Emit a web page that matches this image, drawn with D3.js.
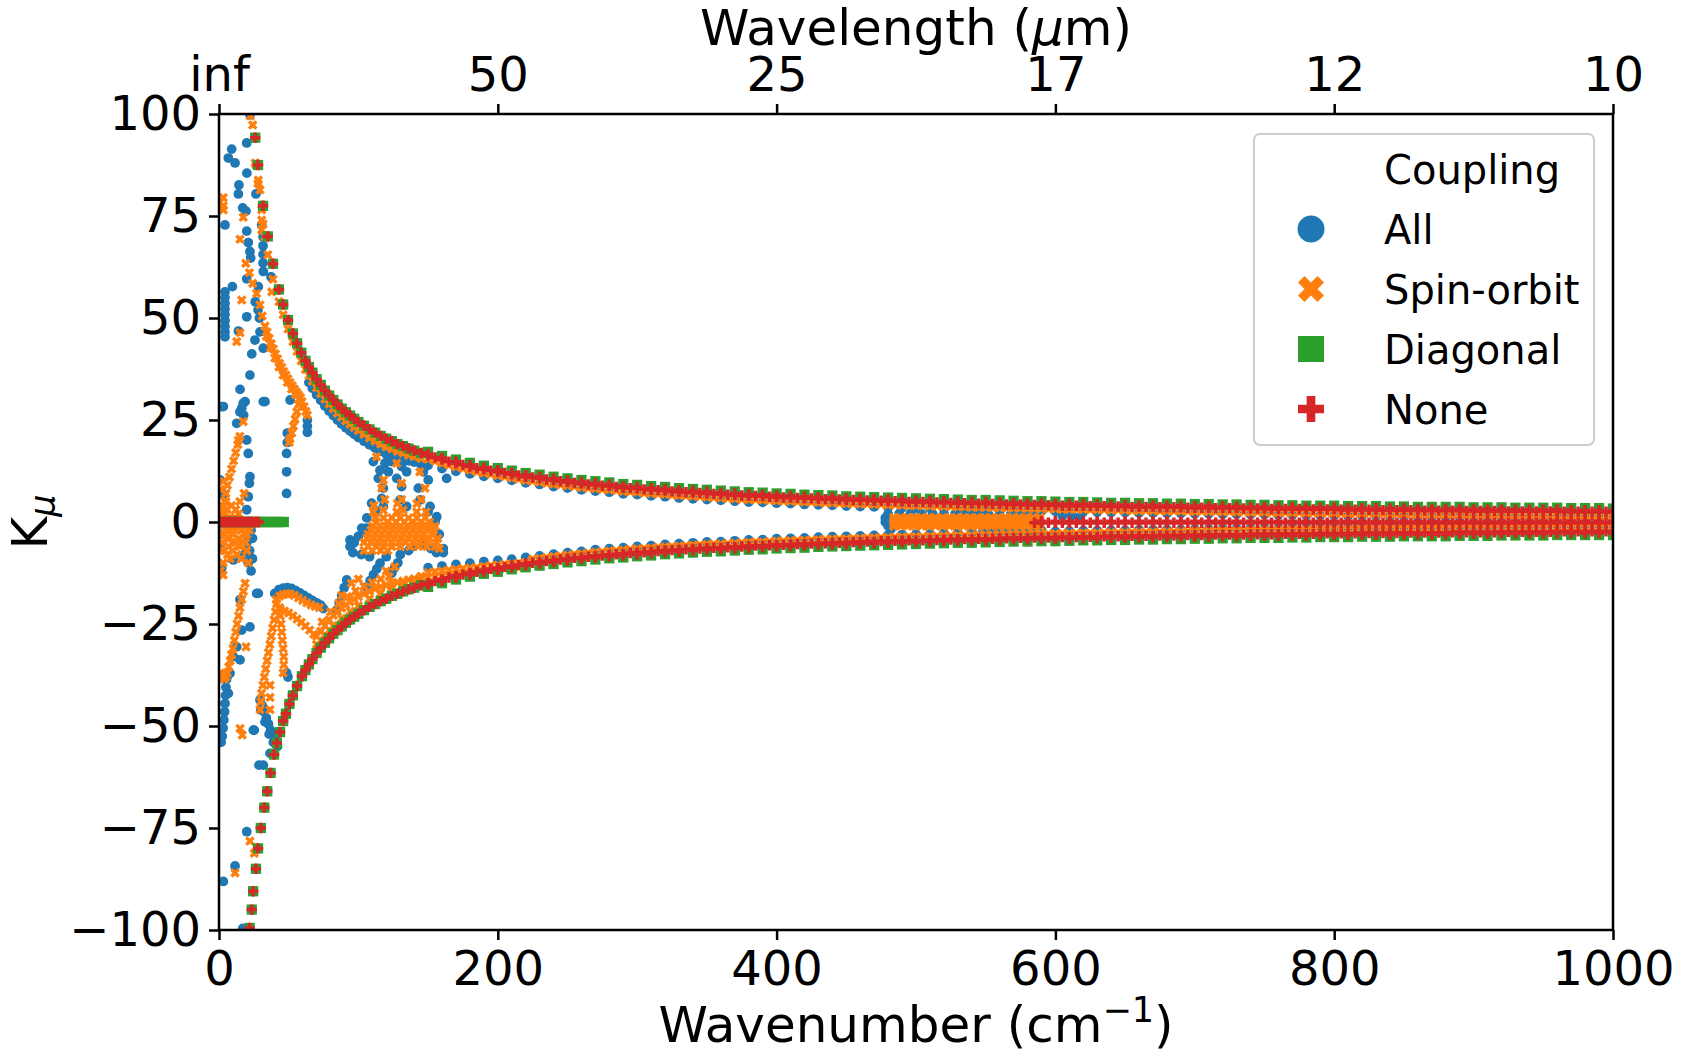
<!DOCTYPE html>
<html>
<head>
<meta charset="utf-8">
<script src="https://cdn.jsdelivr.net/npm/d3@7"></script>
<style>
  body { margin: 0; background: #fff; }
  svg { display: block; }
  text { font-family: "DejaVu Sans", sans-serif; fill: #000; }
</style>
</head>
<body>
<script>
// ---- axis ticks ----
const xTicks = [0, 200, 400, 600, 800, 1000];
const topTickLabels = ['inf', '50', '25', '17', '12', '10'];
const yTicks = [-100, -75, -50, -25, 0, 25, 50, 75, 100];
const couplings = ['All', 'Spin-orbit', 'Diagonal', 'None'];

// ---- wavenumber grids (cm-1) ----
const nuSteepUp = [26,28,31.6,35,38.7,43,46,49.5,53,56, 59,62,64.5,67,70,73,76,79,82,85,
  88,91,94,97,100,104,108,112,116,120, 124,128,132,136,140,145];
const nuSteepLow = [22,23.5,24.5,26.5,28,30,32.5,34.6,37,39.5, 41.5,43.8,46,48,50.5,53,56,59.5,62,64.5,
  67,70,73,76,79,82,85,88,91,94, 97,100,104,108,112,116,120,124,128,132, 136,140,145];
const nuFine = [150,155,160,165,170,175,180,185,190,195, 200,205,210,215,220,225,230,235,240,245,
  250,255,260,265,270,275,280,285,290,295, 300,305,310,315,320,325,330,335,340,345,
  350,355,360,365,370,375,380,385,390,395, 400,405,410,415,420,425,430,435,440,445,
  450,455,460,465,470,475,480,485,490,495, 500,505,510,515,520,525,530,535,540,545,
  550,555,560,565,570,575,580,585,590,595, 600,605,610,615,620,625,630,635,640,645,
  650,655,660,665,670,675,680,685,690,695, 700,705,710,715,720,725,730,735,740,745,
  750,755,760,765,770,775,780,785,790,795, 800,805,810,815,820,825,830,835,840,845,
  850,855,860,865,870,875,880,885,890,895, 900,905,910,915,920,925,930,935,940,945,
  950,955,960,965,970,975,980,985,990,995, 1000];
const nuCoarse = [150,160,170,180,190,200,210,220,230,240, 250,260,270,280,290,300,310,320,330,340,
  350,360,370,380,390,400,410,420,430,440, 450,460,470,480,490,500,510,520,530,540,
  550,560,570,580,590,600,610,620,630,640, 650,660,670,680,690,700,710,720,730,740,
  750,760,770,780,790,800,810,820,830,840, 850,860,870,880,890,900,910,920,930,940,
  950,960,970,980,990,1000];

// ---- None (no coupling) ----
const noneUpperSteep = [94.2,87.5,77.5,70.0,63.3,57.0,53.3,49.5,46.2,43.8, 41.5,39.5,38.0,36.6,35.0,33.6,32.2,31.0,29.9,28.8,
  27.8,26.9,26.1,25.3,24.5,23.6,22.7,21.9,21.1,20.4, 19.8,19.1,18.6,18.0,17.5,16.9];
const noneLowerSteep = [-99.5,-95,-90.5,-85,-80,-75,-70,-66,-61.5,-57, -54.2,-51.5,-48.8,-47,-44.6,-42.5,-40.2,-37.8,-36.3,-34.9,
  -33.6,-32.1,-30.8,-29.6,-28.5,-27.4,-26.5,-25.6,-24.7,-23.9, -23.2,-22.5,-21.6,-20.8,-20.1,-19.4,-18.8,-18.1,-17.6,-17.0,
  -16.5,-16.1,-15.5];
const noneUpperFine = [16.3,15.8,15.3,14.8,14.4,14.0,13.6,13.2,12.9,12.6, 12.3,12.0,11.7,11.4,11.1,10.9,10.7,10.4,10.2,10.0,
  9.8,9.6,9.4,9.2,9.1,8.9,8.8,8.6,8.4,8.3, 8.2,8.0,7.9,7.8,7.7,7.5,7.4,7.3,7.2,7.1,
  7.0,6.9,6.8,6.7,6.6,6.5,6.4,6.4,6.3,6.2, 6.1,6.0,6.0,5.9,5.8,5.8,5.7,5.6,5.6,5.5,
  5.4,5.4,5.3,5.3,5.2,5.2,5.1,5.1,5.0,4.9, 4.9,4.9,4.8,4.8,4.7,4.7,4.6,4.6,4.5,4.5,
  4.5,4.4,4.4,4.3,4.3,4.3,4.2,4.2,4.2,4.1, 4.1,4.0,4.0,4.0,4.0,3.9,3.9,3.9,3.8,3.8,
  3.8,3.7,3.7,3.7,3.7,3.6,3.6,3.6,3.6,3.5, 3.5,3.5,3.5,3.4,3.4,3.4,3.4,3.3,3.3,3.3,
  3.3,3.2,3.2,3.2,3.2,3.2,3.1,3.1,3.1,3.1, 3.1,3.0,3.0,3.0,3.0,3.0,3.0,2.9,2.9,2.9,
  2.9,2.9,2.8,2.8,2.8,2.8,2.8,2.8,2.8,2.7, 2.7,2.7,2.7,2.7,2.7,2.6,2.6,2.6,2.6,2.6,
  2.6,2.6,2.6,2.5,2.5,2.5,2.5,2.5,2.5,2.5, 2.4];
const noneLowerFine = [-15.0,-14.5,-14.1,-13.6,-13.2,-12.9,-12.5,-12.2,-11.8,-11.5, -11.3,-11.0,-10.7,-10.5,-10.2,-10.0,-9.8,-9.6,-9.4,-9.2,
  -9.0,-8.8,-8.7,-8.5,-8.3,-8.2,-8.0,-7.9,-7.8,-7.6, -7.5,-7.4,-7.3,-7.1,-7.0,-6.9,-6.8,-6.7,-6.6,-6.5,
  -6.4,-6.3,-6.3,-6.2,-6.1,-6.0,-5.9,-5.8,-5.8,-5.7, -5.6,-5.6,-5.5,-5.4,-5.4,-5.3,-5.2,-5.2,-5.1,-5.1,
  -5.0,-4.9,-4.9,-4.8,-4.8,-4.7,-4.7,-4.6,-4.6,-4.5, -4.5,-4.5,-4.4,-4.4,-4.3,-4.3,-4.2,-4.2,-4.2,-4.1,
  -4.1,-4.1,-4.0,-4.0,-3.9,-3.9,-3.9,-3.8,-3.8,-3.8, -3.8,-3.7,-3.7,-3.7,-3.6,-3.6,-3.6,-3.5,-3.5,-3.5,
  -3.5,-3.4,-3.4,-3.4,-3.4,-3.3,-3.3,-3.3,-3.3,-3.2, -3.2,-3.2,-3.2,-3.1,-3.1,-3.1,-3.1,-3.1,-3.0,-3.0,
  -3.0,-3.0,-3.0,-2.9,-2.9,-2.9,-2.9,-2.9,-2.8,-2.8, -2.8,-2.8,-2.8,-2.8,-2.7,-2.7,-2.7,-2.7,-2.7,-2.7,
  -2.6,-2.6,-2.6,-2.6,-2.6,-2.6,-2.6,-2.5,-2.5,-2.5, -2.5,-2.5,-2.5,-2.5,-2.4,-2.4,-2.4,-2.4,-2.4,-2.4,
  -2.4,-2.4,-2.3,-2.3,-2.3,-2.3,-2.3,-2.3,-2.3,-2.3, -2.3];
// second, slightly outer row of the two branches
const noneUpperCoarse = [16.7,15.7,14.8,14.0,13.3,12.7,12.1,11.5,11.1,10.6, 10.2,9.8,9.5,9.2,8.8,8.6,8.3,8.1,7.8,7.6,
  7.4,7.2,7.0,6.8,6.7,6.5,6.4,6.2,6.1,6.0, 5.8,5.7,5.6,5.5,5.4,5.3,5.2,5.1,5.0,4.9,
  4.9,4.8,4.7,4.6,4.6,4.5,4.4,4.4,4.3,4.2, 4.2,4.1,4.1,4.0,4.0,3.9,3.9,3.8,3.8,3.7,
  3.7,3.6,3.6,3.5,3.5,3.5,3.4,3.4,3.4,3.3, 3.3,3.2,3.2,3.2,3.2,3.1,3.1,3.1,3.0,3.0,
  3.0,3.0,2.9,2.9,2.9,2.8];
const noneLowerCoarse = [-15.4,-14.5,-13.6,-12.9,-12.2,-11.7,-11.1,-10.6,-10.2,-9.8, -9.4,-9.1,-8.7,-8.4,-8.2,-7.9,-7.7,-7.4,-7.2,-7.0,
  -6.8,-6.7,-6.5,-6.3,-6.2,-6.0,-5.9,-5.8,-5.6,-5.5, -5.4,-5.3,-5.2,-5.1,-5.0,-4.9,-4.8,-4.7,-4.6,-4.6,
  -4.5,-4.4,-4.3,-4.3,-4.2,-4.2,-4.1,-4.0,-4.0,-3.9, -3.9,-3.8,-3.8,-3.7,-3.7,-3.6,-3.6,-3.5,-3.5,-3.4,
  -3.4,-3.4,-3.3,-3.3,-3.2,-3.2,-3.2,-3.1,-3.1,-3.1, -3.0,-3.0,-3.0,-3.0,-2.9,-2.9,-2.9,-2.8,-2.8,-2.8,
  -2.8,-2.7,-2.7,-2.7,-2.7,-2.7];
// flat band near K = 0 from 585 cm-1 on (nuFine from 585, nuCoarse from 590)
const noneMid = [-0.2,-0.2,-0.2,-0.2,-0.2,-0.2,-0.2,-0.2,-0.2,-0.2, -0.2,-0.2,-0.2,-0.2,-0.2,-0.2,-0.2,-0.2,-0.2,-0.2,
  -0.2,-0.2,-0.2,-0.2,-0.2,-0.2,-0.2,-0.2,-0.2,-0.2, -0.2,-0.2,-0.2,-0.2,-0.2,-0.2,-0.2,-0.2,-0.2,-0.2,
  -0.2,-0.2,-0.2,-0.2,-0.2,-0.2,-0.2,-0.2,-0.2,-0.2, -0.2,-0.2,-0.2,-0.2,-0.2,-0.2,-0.2,-0.2,-0.2,-0.2,
  -0.2,-0.2,-0.2,-0.2,-0.2,-0.2,-0.2,-0.2,-0.2,-0.2, -0.2,-0.2,-0.2,-0.2,-0.2,-0.2,-0.2,-0.2,-0.2,-0.2,
  -0.2,-0.2,-0.2,-0.2];
const noneMid2 = [0.2,0.2,0.2,0.2,0.2,0.2,0.2,0.2,0.2,0.2, 0.2,0.2,0.2,0.2,0.2,0.2,0.2,0.2,0.2,0.2,
  0.2,0.2,0.2,0.2,0.2,0.2,0.2,0.2,0.2,0.2, 0.2,0.2,0.2,0.2,0.2,0.2,0.2,0.2,0.2,0.2, 0.2,0.2];
const noneZero = [[0,0],[1.5,0],[3,0],[4.5,0],[6,0],[7.5,0],[9,0],[10.5,0],[12,0],[13.5,0],
  [15,0],[16.5,0],[18,0],[19.5,0],[21,0],[22.5,0],[24,0],[25.5,0],[27,0],[28.5,0]];

// ---- Diagonal ----
const diagUpperCoarse = [17.2,16.2,15.3,14.5,13.8,13.2,12.6,12.0,11.6,11.1, 10.7,10.3,10.0,9.7,9.3,9.1,8.8,8.6,8.3,8.1,
  7.9,7.7,7.5,7.3,7.2,7.0,6.9,6.7,6.6,6.5, 6.3,6.2,6.1,6.0,5.9,5.8,5.7,5.6,5.5,5.4,
  5.4,5.3,5.2,5.1,5.1,5.0,4.9,4.9,4.8,4.7, 4.7,4.6,4.6,4.5,4.5,4.4,4.4,4.3,4.3,4.2,
  4.2,4.1,4.1,4.0,4.0,4.0,3.9,3.9,3.9,3.8, 3.8,3.7,3.7,3.7,3.7,3.6,3.6,3.6,3.5,3.5,
  3.5,3.5,3.4,3.4,3.4,3.3];
const diagLowerCoarse = [-15.9,-15.0,-14.1,-13.4,-12.7,-12.2,-11.6,-11.1,-10.7,-10.3, -9.9,-9.6,-9.2,-8.9,-8.7,-8.4,-8.2,-7.9,-7.7,-7.5,
  -7.3,-7.2,-7.0,-6.8,-6.7,-6.5,-6.4,-6.3,-6.1,-6.0, -5.9,-5.8,-5.7,-5.6,-5.5,-5.4,-5.3,-5.2,-5.1,-5.1,
  -5.0,-4.9,-4.8,-4.8,-4.7,-4.7,-4.6,-4.5,-4.5,-4.4, -4.4,-4.3,-4.3,-4.2,-4.2,-4.1,-4.1,-4.0,-4.0,-3.9,
  -3.9,-3.9,-3.8,-3.8,-3.7,-3.7,-3.7,-3.6,-3.6,-3.6, -3.5,-3.5,-3.5,-3.5,-3.4,-3.4,-3.4,-3.3,-3.3,-3.3,
  -3.3,-3.2,-3.2,-3.2,-3.2,-3.2];
const diagZero = [[0,0],[1.5,0],[3,0],[4.5,0],[6,0],[7.5,0],[9,0],[10.5,0],[12,0],[13.5,0],
  [15,0],[16.5,0],[18,0],[19.5,0],[21,0],[22.5,0],[24,0],[25.5,0],[27,0],[28.5,0],
  [30,0],[31.5,0],[33,0],[34.5,0],[36,0],[37.5,0],[39,0],[40.5,0],[42,0],[43.5,0],[45,0],[46.5,0]];

// ---- Spin-orbit ----
const spinUpperSteep = [88,83,73,65.5,59.5,54,50.8,47.3,44.2,41.8, 39.5,37.4,35.9,34.5,32.9,31.5,30.1,28.9,27.8,26.7,
  25.7,24.8,24.0,23.2,22.4,21.5,20.6,19.8,19.1,18.4, 17.9,17.3,16.9,16.4,16.0,15.6];
const spinLowerSteep = [-28.0,-26.8,-25.4,-24.0,-22.9,-22.0,-21.1,-20.3,-19.6,-18.9, -18.3,-17.6,-17.0,-16.4,-15.9,-15.5,-15.1,-14.8,-14.5,-14.2,
  -13.9,-13.3]; // on nuSteepLow from 70 cm-1
const spinUpperFine = [15.4,14.9,14.4,13.9,13.5,13.1,12.7,12.3,12.0,11.7, 11.4,11.1,10.8,10.5,10.2,10.0,9.8,9.5,9.3,9.1,
  8.9,8.7,8.5,8.3,8.2,8.0,7.9,7.7,7.5,7.4, 7.3,7.1,7.0,6.9,6.8,6.6,6.5,6.4,6.3,6.2,
  6.1,6.0,5.9,5.8,5.7,5.6,5.5,5.5,5.4,5.3, 5.2,5.1,5.1,5.0,4.9,4.9,4.8,4.7,4.7,4.6,
  4.5,4.5,4.4,4.4,4.3,4.3,4.2,4.2,4.1,4.0, 4.0,4.0,3.9,3.9,3.8,3.8,3.7,3.7,3.6,3.6,
  3.6,3.5,3.5,3.4,3.4,3.4,3.3,3.3,3.3,3.2, 3.2,3.1,3.1,3.1,3.1,3.0,3.0,3.0,2.9,2.9,
  2.9,2.8,2.8,2.8,2.8,2.7,2.7,2.7,2.7,2.6, 2.6,2.6,2.6,2.5,2.5,2.5,2.5,2.4,2.4,2.4,
  2.4,2.3,2.3,2.3,2.3,2.3,2.2,2.2,2.2,2.2, 2.2,2.1,2.1,2.1,2.1,2.1,2.1,2.0,2.0,2.0,
  2.0,2.0,1.9,1.9,1.9,1.9,1.9,1.9,1.9,1.8, 1.8,1.8,1.8,1.8,1.8,1.7,1.7,1.7,1.7,1.7,
  1.7,1.7,1.7,1.6,1.6,1.6,1.6,1.6,1.6,1.6, 1.5];
const spinLowerFine = [-12.4,-12.2,-12.0,-11.8,-11.6,-11.4,-11.3,-11.1,-10.9,-10.7, -10.6,-10.4,-10.3,-10.1,-9.9,-9.1,-8.9,-8.7,-8.5,-8.3,
  -8.1,-7.9,-7.8,-7.6,-7.4,-7.3,-7.1,-7.0,-6.9,-6.7, -6.6,-6.5,-6.4,-6.2,-6.1,-6.0,-5.9,-5.8,-5.7,-5.6,
  -5.5,-5.4,-5.4,-5.3,-5.2,-5.1,-5.0,-4.9,-4.9,-4.8, -4.7,-4.7,-4.6,-4.5,-4.5,-4.4,-4.3,-4.3,-4.2,-4.2,
  -4.1,-4.0,-4.0,-3.9,-3.9,-3.8,-3.8,-3.7,-3.7,-3.6, -3.6,-3.6,-3.5,-3.5,-3.4,-3.4,-3.3,-3.3,-3.3,-3.2,
  -3.2,-3.2,-3.1,-3.1,-3.0,-3.0,-3.0,-2.9,-2.9,-2.9, -2.9,-2.8,-2.8,-2.8,-2.7,-2.7,-2.7,-2.6,-2.6,-2.6,
  -2.6,-2.5,-2.5,-2.5,-2.5,-2.4,-2.4,-2.4,-2.4,-2.3, -2.3,-2.3,-2.3,-2.2,-2.2,-2.2,-2.2,-2.2,-2.1,-2.1,
  -2.1,-2.1,-2.1,-2.0,-2.0,-2.0,-2.0,-2.0,-1.9,-1.9, -1.9,-1.9,-1.9,-1.9,-1.8,-1.8,-1.8,-1.8,-1.8,-1.8,
  -1.7,-1.7,-1.7,-1.7,-1.7,-1.7,-1.7,-1.6,-1.6,-1.6, -1.6,-1.6,-1.6,-1.6,-1.5,-1.5,-1.5,-1.5,-1.5,-1.5,
  -1.5,-1.5,-1.4,-1.4,-1.4,-1.4,-1.4,-1.4,-1.4,-1.4, -1.4];
const spinScatter = [
  [0.7,78.4],[3.1,79.5],[3.1,77.5],[3.1,76.5],[17.4,74.7],[15.1,69.3],[16.3,54.4],[15.1,46.4],[12.7,44.2],
  [22.5,99.5],[24.2,97.3],[26.5,87.5],[28.2,83.8],[29.4,81.4],[30.6,76.5],[30.6,74],[30.6,71.6],[33,69.9],[37.8,56.4],
  [19.2,63.4],[21.8,61.1],[24.2,58.5],[27,56],[29.4,53.2],[31,50.5],[33,48],[34.5,46.5],[36,45],[37.5,43.7],[39,42.4],
  [40.5,41.2],[42,40],[43.5,38.9],[45,37.9],[46.5,36.9],[48,36],[49.5,35.1],[51,34.2],[52.5,33.4],[54,32.6],[55.5,31.9],
  [57,31.2],[58.5,30.5],[34,45.5],[37,42.8],[40,40.2],[43,38],[46,36],[49,34.2],[52,32.6],[55,31.2],
  [57,28.8],[55.8,27],[54.6,25.2],[53.4,23.5],[52.2,21.8],[51,20.4],[50.4,19.5],[59.5,29.5],[61,28.3],[62.3,27.1],[63.4,26.2],
  [1,2],[2,-1],[3,1],[4,-3],[5,0],[6,-2],[7,-4],[8,1],[9,-1],[10,-3],[11,-5],[12,-2],[13,0],[14,-4],[15,-6],[16,-2],
  [17,-1],[18,-3],[19,-5],[20,-7],[6,3],[9,4],[12,3],[15,5],[18,7],[2,-5],[4,-7],[6,-8],[8,-9],[3,-10],[1,-7],[10,-7],
  [13,-8],[16,-9],[21,-10],[14,2],[11,1],[7,-6],[5,5],[2,4],[1,8],[3,10],[0.5,-3],[0.5,0],[2,2],[4,1],[6,-4],[8,-2],
  [10,0],[12,-5],[14,-1],[16,-5],[18,0],[20,-3],[22,-2],[1,-12],[3,-13],
  [3,3],[4,5],[5,7],[6,9],[7.5,11],[9,13],[10.5,15],[12,17],[13.5,19],[15,21],[17.4,24.6],[13.8,20],
  [18.7,-15],[17.5,-17],[16.3,-19],[15,-21],[14,-23],[13,-25],[12,-27],[11,-29],[10,-31],[9,-32.5],[8,-34],[7,-35.5],
  [6,-37],[5,-38],[3.5,-38.5],[2,-37.9],[1,-37],[19.4,-30.6],[15.1,-50.6],[16.7,-52.2],[22.2,-78.2],[25.3,-81.2],[11.5,-86],
  [41.4,-20],[40.5,-22],[39.5,-24],[38.5,-26],[37.5,-28],[36.5,-30],[35.5,-32],[34.5,-34],[33.5,-36],[32.5,-38],
  [31.5,-40],[30.5,-42],[30,-44],[29.4,-46],[43.5,-21],[44,-23],[44.5,-25],[45,-27],[45.5,-29],[46,-31],[46.5,-33],
  [46.5,-35],[46,-37],[36.6,-40],[36.6,-43],[36.6,-46],
  [41,-19],[43.5,-18.2],[46,-17.8],[48.6,-17.6],[51,-17.6],[54,-18],[57,-18.6],[60,-19.2],[63,-19.8],[66,-20.3],[69,-20.7],[72,-21],
  [44,-21.5],[47,-21.8],[50,-22.3],[53,-23],[56,-23.8],[59,-24.6],[62,-25.5],[65,-26.5],[68,-27.5],
  [74,-24.5],[80,-22],[86,-20],[92,-18.3],[98,-16.9],[104,-15.8],[110,-14.8],[116,-14],[122,-13.4],
  [88,-18],[95,-15],[100,-14],[120,-12],[126,-11],
  [70,-30],[76,-27.6],[82,-25.4],[88,-23.6],[94,-21.9],[100,-20.5],[108,-18.8],[116,-17.4],[124,-16.1],[132,-15],[140,-14.1],
  [145,-13.8],[150,-13.6],[155,-13.4],[160,-13.2],[165,-13],[170,-12.8],[175,-12.6],[180,-12.4],[185,-12.2],[190,-12],
  [195,-11.8],[200,-11.7],[205,-11.5],[210,-11.3],[215,-11.2],
  [118,10.3],[116.7,8.3],[131,9.5],[147.8,8.3],[113,16],[127.5,14.4],[144,12.3],[117.9,2.9],[132,2.9],[148.5,2.5],
  [119,5.5],[131,5.5],[145,5.5],
  [112,1],[118,1],[124,1],[130,1],[136,1],[142,1],[148,1],
  [113,0],[121,0],[127,0],[133,0],[139,0],[145,0],[151,0],
  [110,-1],[115,-1],[120,-1],[125,-1],[130,-1],[135,-1],[140,-1],[145,-1],[150,-1],[155,-1],
  [109,-2],[114,-2],[119,-2],[124,-2],[129,-2],[134,-2],[139,-2],[144,-2],[149,-2],[154,-2],
  [107,-3],[112,-3],[117,-3],[122,-3],[127,-3],[132,-3],[137,-3],[142,-3],[147,-3],[153,-3],
  [106,-4],[111,-4],[116,-4],[121,-4],[126,-4],[131,-4],[136,-4],[141,-4],[146,-4],[151,-4],[157,-4],
  [104,-5],[109,-5],[114,-5],[119,-5],[124,-5],[129,-5],[134,-5],[139,-5],[144,-5],[150,-5],[156,-5],
  [107,-6],[113,-6],[118,-6],[124,-6],[130,-6],[137,-6],[143,-6],[149,-6],[155,-6],
  [104,-7],[110,-7],[116,-7],[121,-7],
  [110.7,2.5],[111,4],[127.5,2.5],[128,4.5],[141.8,2.5],[142,4.5],[158,-6.5],
  [484,1.1],[489,1.1],[494,1.1],[499,1.1],[504,1.1],[509,1.1],[514,1.1],[519,1.1],[524,1.1],[529,1.1],[534,1.1],
  [539,1.1],[544,1.1],[549,1.1],[554,1.1],[559,1.1],[564,1.1],[569,1.1],[574,1.1],[579,1.1],[584,1.1],[589,1.1],
  [484,0.4],[489,0.4],[494,0.4],[499,0.4],[504,0.4],[509,0.4],[514,0.4],[519,0.4],[524,0.4],[529,0.4],[534,0.4],
  [539,0.4],[544,0.4],[549,0.4],[554,0.4],[559,0.4],[564,0.4],[569,0.4],[574,0.4],[579,0.4],[584,0.4],[589,0.4],
  [484,-0.3],[489,-0.3],[494,-0.3],[499,-0.3],[504,-0.3],[509,-0.3],[514,-0.3],[519,-0.3],[524,-0.3],[529,-0.3],[534,-0.3],
  [539,-0.3],[544,-0.3],[549,-0.3],[554,-0.3],[559,-0.3],[564,-0.3],[569,-0.3],[574,-0.3],[579,-0.3],[584,-0.3],[589,-0.3],
  [484,-1.0],[489,-1.0],[494,-1.0],[499,-1.0],[504,-1.0],[509,-1.0],[514,-1.0],[519,-1.0],[524,-1.0],[529,-1.0],[534,-1.0],
  [539,-1.0],[544,-1.0],[549,-1.0],[554,-1.0],[559,-1.0],[564,-1.0],[569,-1.0],[574,-1.0],[579,-1.0],[584,-1.0],[589,-1.0]
];

// ---- All couplings ----
const allUpperSteep = [34.2,32.8,31.2,29.8,28.4,27.2,26.1,25.0,24.0,23.1, 22.3,21.5,20.7,19.8,18.9,18.1,17.3,16.6,16.3,15.8,
  15.4,15.0,14.7,14.4]; // on nuSteepUp from 64.5 cm-1
const allUpperCoarse = [13.9,13.1,12.4,11.8,11.2,10.7,10.2,9.6,9.2,8.7, 8.3,7.9,7.6,7.3,6.9,6.7,6.4,6.2,5.9,5.7,
  5.5,5.3,5.1,4.9,4.8,4.6,4.5,4.3,4.2,4.1, 3.9,3.8,3.7,3.6,3.5,3.4,3.3,3.2,3.1,3.0,
  3.0,2.9,2.8,2.7,2.7,2.6,2.5,2.5,2.4,2.3, 2.3,2.2,2.2,2.1,2.1,2.0,2.0,1.9,1.9,1.8,
  1.8,1.7,1.7,1.6,1.6,1.6,1.5,1.5,1.5,1.4, 1.4,1.3,1.3,1.3,1.3,1.2,1.2,1.2,1.1,1.1,
  1.1,1.1,1.0,1.0,1.0,0.9];
const allLowerCoarse = [-11.2,-10.8,-10.4,-10.1,-9.7,-9.4,-9.1,-8.7,-8.3,-7.9, -7.5,-7.2,-6.8,-6.5,-6.3,-6.0,-5.8,-5.5,-5.3,-5.1,
  -4.9,-4.8,-4.6,-4.4,-4.3,-4.1,-4.0,-3.9,-3.7,-3.6, -3.5,-3.4,-3.3,-3.2,-3.1,-3.0,-2.9,-2.8,-2.7,-2.7,
  -2.6,-2.5,-2.4,-2.4,-2.3,-2.3,-2.2,-2.1,-2.1,-2.0, -2.0,-1.9,-1.9,-1.8,-1.8,-1.7,-1.7,-1.6,-1.6,-1.5,
  -1.5,-1.5,-1.4,-1.4,-1.3,-1.3,-1.3,-1.2,-1.2,-1.2, -1.1,-1.1,-1.1,-1.1,-1.0,-1.0,-1.0,-0.9,-0.9,-0.9,
  -0.9,-0.8,-0.8,-0.8,-0.8,-0.8];
const allScatter = [
  [22.2,99.8],[19.9,92.9],[9.1,91.4],[6.7,89.2],[11.5,88],[20,85.5],[14.3,82.6],[13.9,80.4],[26.5,80.4],[17,77],[19.4,76.2],
  [4.3,72.8],[30.6,72.8],[19.9,71.3],[31.6,69.9],[31.6,67.7],[31.6,65.6],[31.6,63.5],[21,68.5],[22.2,66.3],[22.7,64.7],
  [31.8,61.4],[19.9,59.6],[9.6,57.7],[37.3,60.1],[28.2,57.7],
  [4.3,56.4],[4.3,55],[4.3,53.6],[4.3,52.2],[4.3,50.8],[4.3,49.4],[4.3,48],[4.3,46.6],[4.3,45.4],
  [19.9,50.3],[13.9,46.8],[29.4,46.6],[25.8,44.6],[31.8,42.6],[23.5,41.2],[22.2,36],[15.1,32.5],[18.7,29.5],[33,29.5],
  [3.1,28.3],[16.3,27.9],[28,52],[29,50],[26,54],
  [51,29.9],[63.4,25],[63.4,23.5],[63.4,22],[48.5,16.8],[48.5,12.3],[48.5,7],[49,21.8],[49,19.5],
  [0.7,10.3],[2,28.3],[15,27],[17.7,26.2],[12.7,24.2],[19.9,20.1],[21,16.8],[22.2,11.1],[21.8,9.5],[21,6.2],[19.9,3],
  [3.1,6.9],[20,-5],[22,-7],[24,-9],[21,-10],[23,-12],[10.3,-9.3],[2,-11.3],[1,-3],[1,-6],[23,-2],[24,-4],[18,-8],
  [17.4,29.1],[31.8,29.5],
  [15,-19],[16.3,-26.5],[12.7,-30.6],[10.3,-33],[7.9,-37.1],[6.7,-42],[28.2,-17.5],[22.2,-25.7],[27,-17.5],[15.1,-33.8],
  [5.5,-38.5],[5,-40.5],[4.7,-42.5],[4.3,-44.5],[4,-46.5],[3.5,-48.5],[3,-50.5],[2.3,-52.5],[1.5,-54],
  [29.4,-43.6],[31,-45],[32.5,-46.5],[34,-48],[35.5,-49.5],[37,-51],[38.5,-52],[40,-53],[41.4,-53.5],[30,-46],[33,-49],
  [36,-52],[39,-54],[42,-55],
  [36.6,-56.7],[28.7,-59.6],[31.8,-59.6],[25.3,-51],[24.6,-51],[19.9,-75.9],[11.5,-84.3],[3.1,-88.1],[17,-99.6],
  [49.5,-38],[48.5,-37],
  [40,-17.5],[43,-16.6],[46,-16.2],[49,-16.1],[52,-16.3],[55,-16.8],[58,-17.4],[61,-18],[64,-18.6],[67,-19.2],[70,-19.8],
  [73,-20.4],[74.8,-21.2],
  [84.4,-21.6],[86.2,-19.8],[88,-18],[89.8,-16.1],[91.6,-14.2],[106,-15.9],[108.4,-14.4],[110.8,-12.9],[113.2,-11.5],
  [115.5,-10.1],[124,-12.5],[126,-11.2],[128.3,-10],
  [110.7,14.8],[119.1,14.4],[123.9,14.8],[115.5,12.7],[121.5,12.3],[114.3,10.7],[127.5,10.7],[131,8.7],[117.9,8.3],
  [143,8.3],[150.1,10.3],[163.3,10.7],[131,13.6],[134.6,12.3],[146.6,12.3],[144.2,14.4],[116.7,5.8],[129.8,5.4],
  [144.2,5.4],[109.5,4.6],[117.9,3.8],[111.9,2.9],[134.6,3.8],[151.4,3.8],[156.2,1.3],[106,-1.5],[102.4,-1.5],[94,-4.4],
  [96.3,-5.2],[139.4,-6],[146.6,-5.2],[160.9,-6.5],
  [104,-2],[100,-3.5],[97,-5],[94,-6],[96,-7.5],[102,-8],[108,-8.5],[152,-6.5],[156,-7.5],[160.9,-7.5],[158,-3],[155,0],
  [150,2.5],[112,2.5],[106,1],[136,-7],[130,-8],[120,-8.5],
  [480,2],[488,2.1],[496,2.1],[504,2],[512,2],[520,2],[528,2],[536,2],[544,1.9],[552,1.9],[560,1.8],[568,1.9],[576,1.8],
  [584,1.8],[478,1],[478,0],[480,-1],[482,-1.8],[540,-2],[548,-2.1],[556,-2],[566,-2.1],[574,-2],[582,-2.1],[590,-2],
  [605,1.5],[612,1.6],[618,1.4]
];

// ---- layout ----
const W = 1684, H = 1060;
const margin = {top: 114, right: 71, bottom: 130, left: 219};
const x = d3.scaleLinear().domain([0, 1000]).range([margin.left, W - margin.right]);
const y = d3.scaleLinear().domain([-100, 100]).range([H - margin.bottom, margin.top]);

const svg = d3.select('body').append('svg').attr('width', W).attr('height', H);

svg.append('clipPath').attr('id', 'plot-area').append('rect')
  .attr('x', margin.left).attr('y', margin.top)
  .attr('width', W - margin.left - margin.right).attr('height', H - margin.top - margin.bottom);

const zip = (nu, k) => nu.map((v, i) => [v, k[i]]);

const series = [
  {name: 'All', color: '#1f77b4', shape: 'circle',
    pts: [...zip(nuSteepUp.slice(12), allUpperSteep), ...zip(nuCoarse, allUpperCoarse),
          ...zip(nuCoarse, allLowerCoarse), ...allScatter]},
  {name: 'Spin-orbit', color: '#ff7f0e', shape: 'x',
    pts: [...zip(nuSteepUp, spinUpperSteep), ...zip(nuSteepLow.slice(21), spinLowerSteep),
          ...zip(nuFine, spinUpperFine), ...zip(nuFine, spinLowerFine), ...spinScatter]},
  {name: 'Diagonal', color: '#2ca02c', shape: 'square',
    pts: [...zip(nuSteepUp, noneUpperSteep), ...zip(nuSteepLow, noneLowerSteep),
          ...zip(nuCoarse, diagUpperCoarse), ...zip(nuCoarse, diagLowerCoarse), ...diagZero]},
  {name: 'None', color: '#d62728', shape: 'plus',
    pts: [...zip(nuSteepUp, noneUpperSteep), ...zip(nuSteepLow, noneLowerSteep),
          ...zip(nuCoarse, noneUpperCoarse), ...zip(nuCoarse, noneLowerCoarse),
          ...zip(nuFine, noneUpperFine), ...zip(nuFine, noneLowerFine),
          ...zip(nuFine.slice(87), noneMid), ...zip(nuCoarse.slice(44), noneMid2), ...noneZero]}
];

const marker = {
  circle: {path: d3.symbol(d3.symbolCircle, 75)(), rot: 0, big: d3.symbol(d3.symbolCircle, 573)()},
  x: {path: d3.symbol(d3.symbolCross, 58)(), rot: 45, big: d3.symbol(d3.symbolCross, 423)()},
  square: {path: d3.symbol(d3.symbolSquare, 105)(), rot: 0, big: d3.symbol(d3.symbolSquare, 676)()},
  plus: {path: d3.symbol(d3.symbolCross, 60)(), rot: 0, big: d3.symbol(d3.symbolCross, 375)()}
};

const plot = svg.append('g').attr('clip-path', 'url(#plot-area)');
series.forEach(s => {
  const mk = marker[s.shape];
  plot.append('g').selectAll('path')
    .data(s.pts)
    .enter()
    .append('path')
    .attr('d', mk.path)
    .attr('fill', s.color)
    .attr('transform', d => `translate(${x(d[0])},${y(d[1])}) rotate(${mk.rot})`);
});

// ---- axes ----
const fmtY = d => d < 0 ? '\u2212' + (-d) : String(d);
const tickFont = '48px';

const styleAxis = g => {
  g.select('.domain').remove();
  g.selectAll('.tick line').attr('stroke', '#000').attr('stroke-width', 2.5);
  g.selectAll('.tick text').style('font-size', tickFont).style('font-family', '"DejaVu Sans", sans-serif').attr('fill', '#000');
};

svg.append('g').attr('transform', `translate(0,${H - margin.bottom})`)
  .call(d3.axisBottom(x).tickValues(xTicks).tickSize(10).tickSizeOuter(0).tickPadding(11).tickFormat(d3.format('d')))
  .call(styleAxis);

svg.append('g').attr('transform', `translate(0,${margin.top})`)
  .call(d3.axisTop(x).tickValues(xTicks).tickSize(10).tickSizeOuter(0).tickPadding(13)
    .tickFormat((d, i) => topTickLabels[i]))
  .call(styleAxis);

svg.append('g').attr('transform', `translate(${margin.left},0)`)
  .call(d3.axisLeft(y).tickValues(yTicks).tickSize(10).tickSizeOuter(0).tickPadding(8).tickFormat(fmtY))
  .call(styleAxis);

// frame
svg.append('rect')
  .attr('x', margin.left).attr('y', margin.top)
  .attr('width', W - margin.left - margin.right).attr('height', H - margin.top - margin.bottom)
  .attr('fill', 'none').attr('stroke', '#000').attr('stroke-width', 2.5);

// axis labels
const xl = svg.append('text').attr('x', (margin.left + W - margin.right) / 2).attr('y', 1042)
  .attr('text-anchor', 'middle').style('font-size', '50px');
xl.append('tspan').text('Wavenumber (cm');
xl.append('tspan').text('\u22121').attr('dy', -20).style('font-size', '35px');
xl.append('tspan').text(')').attr('dy', 20);

svg.append('text').attr('x', (margin.left + W - margin.right) / 2).attr('y', 45)
  .attr('text-anchor', 'middle').style('font-size', '50px')
  .html('Wavelength (<tspan font-style="italic">\u03bc</tspan>m)');

const yl = svg.append('text').attr('transform', `translate(47,${(margin.top + H - margin.bottom) / 2}) rotate(-90)`)
  .attr('text-anchor', 'middle').style('font-size', '50px');
yl.append('tspan').text('K');
yl.append('tspan').text('\u03bc').attr('dy', 8).style('font-size', '35px').style('font-style', 'italic');

// ---- legend ----
const lg = svg.append('g');
lg.append('rect').attr('x', 1254).attr('y', 134).attr('width', 340).attr('height', 311)
  .attr('rx', 6).attr('fill', '#fff').attr('fill-opacity', 0.8)
  .attr('stroke', '#cccccc').attr('stroke-width', 2);
lg.append('text').attr('x', 1384).attr('y', 184).style('font-size', '40px').text('Coupling');
series.forEach((s, i) => {
  const cy = 229 + i * 60;
  const mk = marker[s.shape];
  lg.append('path').attr('d', mk.big).attr('fill', s.color)
    .attr('transform', `translate(1311,${cy}) rotate(${mk.rot})`);
  lg.append('text').attr('x', 1384).attr('y', cy + 15).style('font-size', '40px').text(couplings[i]);
});
</script>
</body>
</html>
